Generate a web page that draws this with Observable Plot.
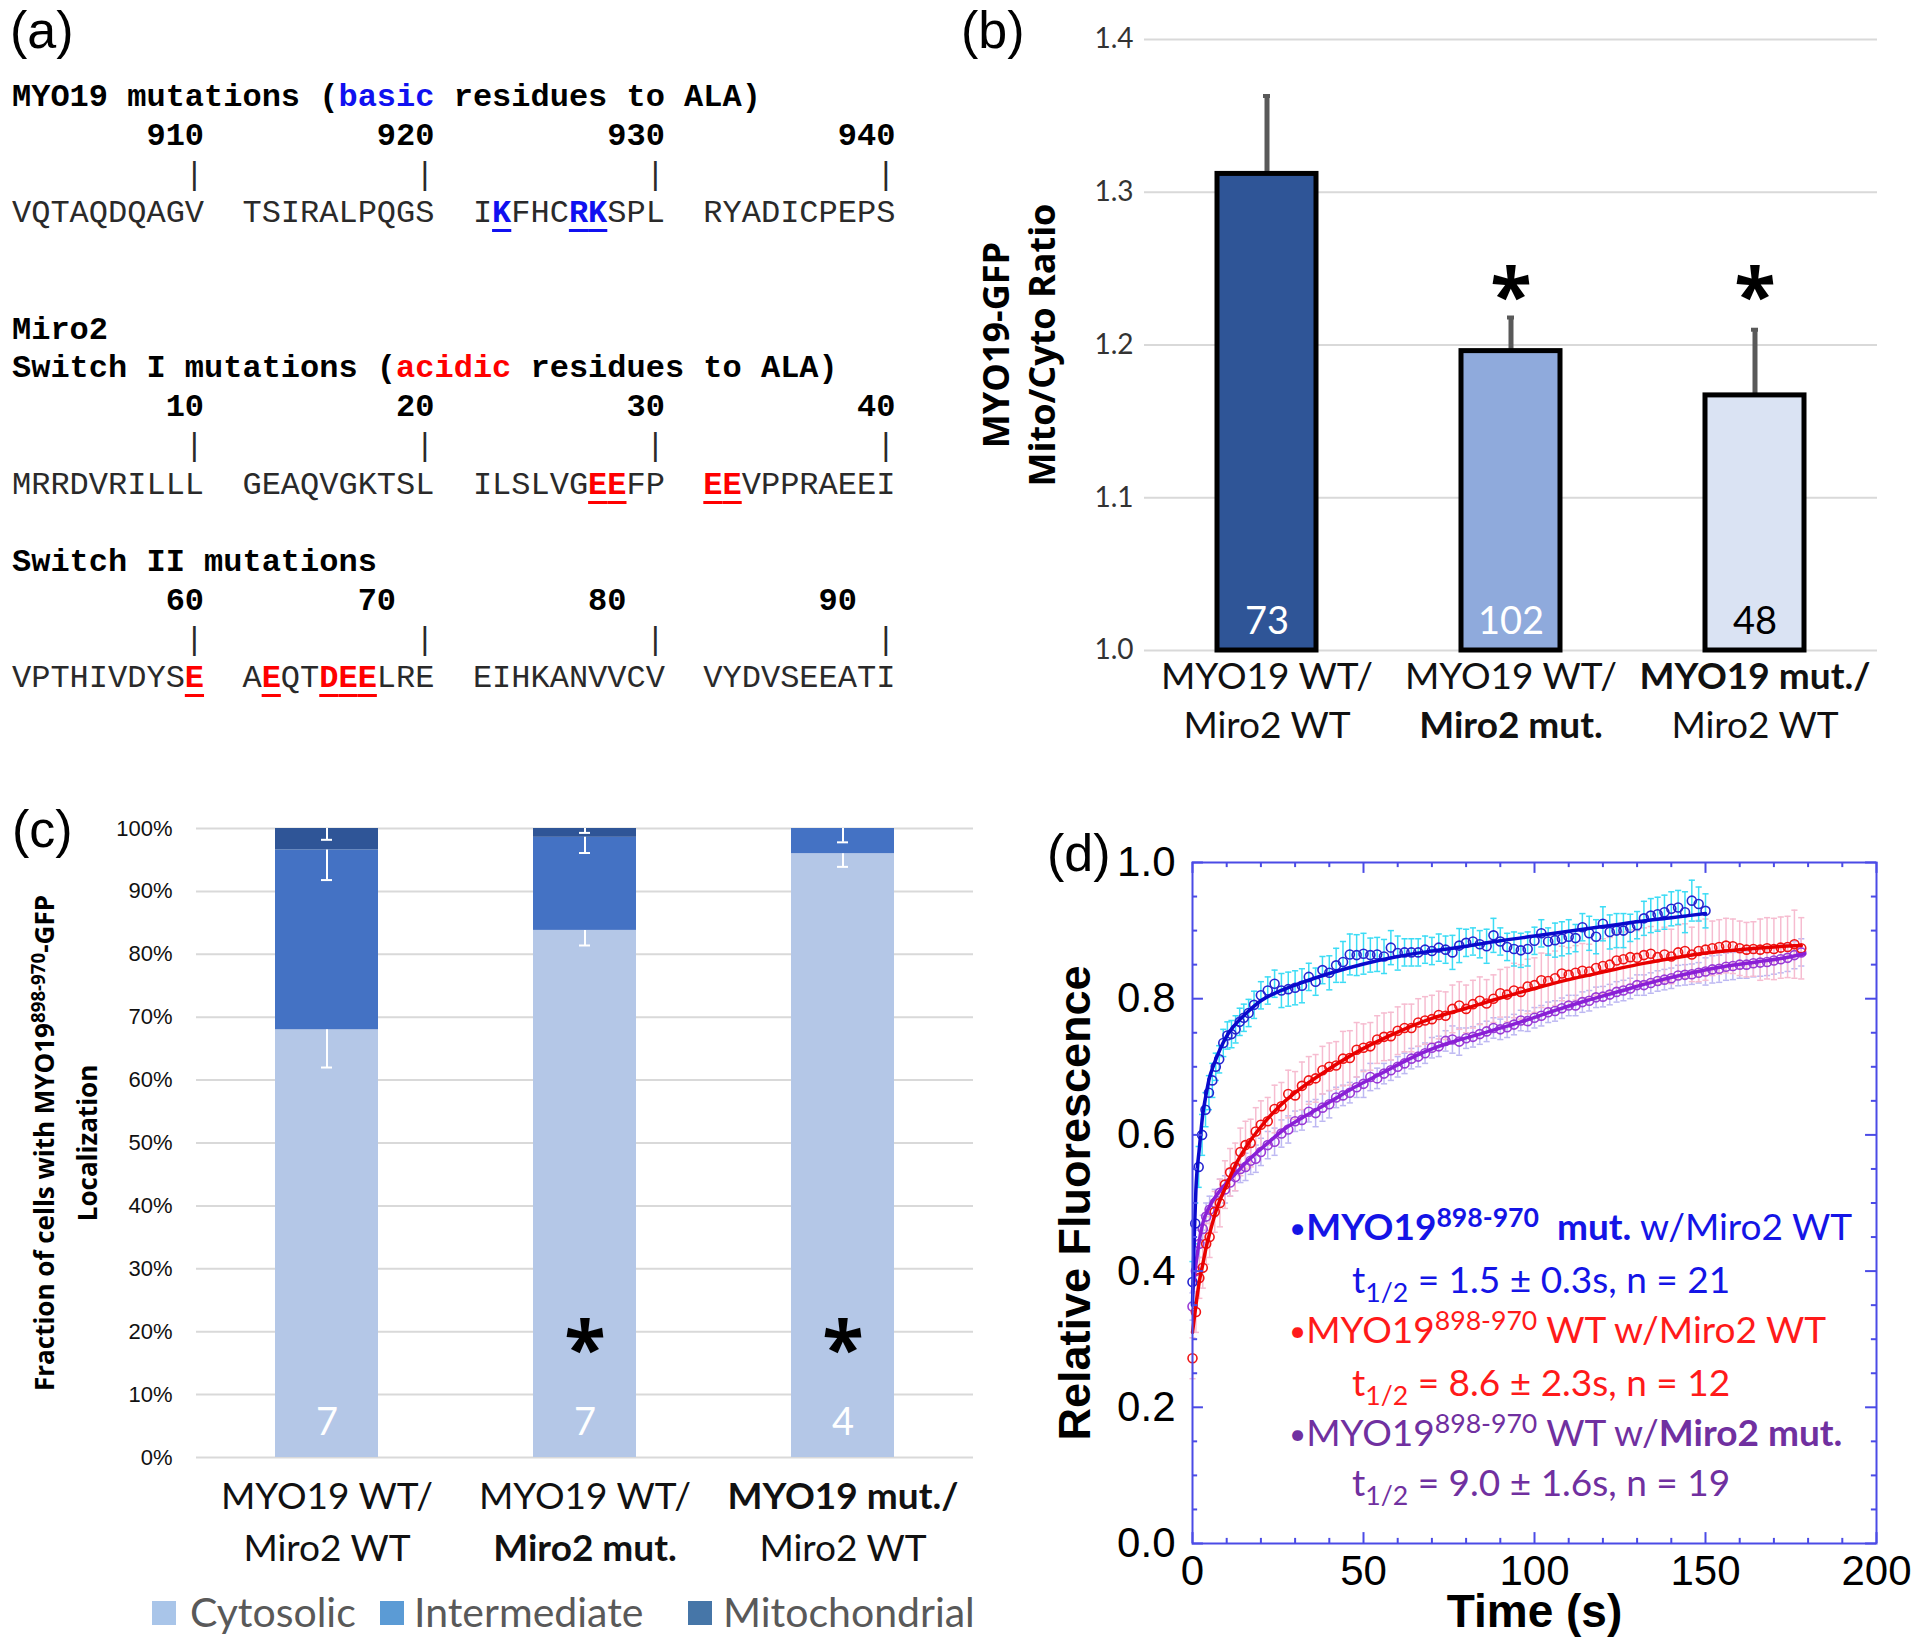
<!DOCTYPE html>
<html><head><meta charset="utf-8">
<script src="https://cdn.jsdelivr.net/npm/d3@7"></script>
<script src="https://cdn.jsdelivr.net/npm/@observablehq/plot@0.6"></script>
<style>
html,body{margin:0;padding:0;background:#fff;}
#fig{position:relative;width:1920px;height:1647px;overflow:hidden;background:#fff;}
.holder{position:absolute;}
.holder svg{display:block;}
.plabel{position:absolute;font-family:'Liberation Sans',Arial,sans-serif;font-size:52px;line-height:52px;color:#000;}
#panelA{position:absolute;left:12px;top:79px;font-family:'Liberation Mono','Courier New',monospace;font-size:32px;line-height:38.75px;white-space:pre;color:#2a2a2a;}
#panelA .hd{font-weight:bold;color:#000;}
#panelA .num{font-weight:bold;color:#000;}
#panelA .mut{font-weight:bold;text-decoration:underline;text-decoration-thickness:3px;text-underline-offset:7px;}
.dl{position:absolute;font-family:Lato,'Open Sans',sans-serif;font-size:37px;line-height:46px;white-space:pre;}
.bul{font-weight:normal;font-size:0.8em;position:relative;top:-0.08em;}
.sup{font-size:0.72em;position:relative;top:-0.5em;}
.sub{font-size:0.72em;position:relative;top:0.32em;}
.legc{position:absolute;font-family:Lato,sans-serif;font-size:41px;line-height:46px;color:#595959;white-space:nowrap;}
.sw{position:absolute;width:24px;height:24px;}
.ytitle{position:absolute;transform:rotate(-90deg);transform-origin:50% 50%;text-align:center;font-family:'Open Sans',sans-serif;font-weight:bold;color:#000;white-space:nowrap;}
</style></head>
<body><div id="fig"></div>
<script>
// ---------------- DATA ----------------
// Panel (a): sequences
const myo19Groups = ["VQTAQDQAGV", "TSIRALPQGS", "IKFHCRKSPL", "RYADICPEPS"];
const myo19First = 901;
const myo19Mutated = [922, 926, 927];
const myo19Labels = [910, 920, 930, 940];
const myo19LabelCols = [10, 22, 34, 46];
const miroS1Groups = ["MRRDVRILLL", "GEAQVGKTSL", "ILSLVGEEFP", "EEVPPRAEEI"];
const miroS1First = 1;
const miroS1Mutated = [27, 28, 31, 32];
const miroS1Labels = [10, 20, 30, 40];
const miroS1LabelCols = [10, 22, 34, 46];
const miroS2Groups = ["VPTHIVDYSE", "AEQTDEELRE", "EIHKANVVCV", "VYDVSEEATI"];
const miroS2First = 51;
const miroS2Mutated = [60, 62, 65, 66, 67];
const miroS2Labels = [60, 70, 80, 90];
const miroS2LabelCols = [10, 20, 32, 44];
const tickCols = [10, 22, 34, 46];

// Panels (b),(c): groups
const groupLine1 = ["MYO19 WT/", "MYO19 WT/", "MYO19 mut./"];
const groupLine2 = ["Miro2 WT", "Miro2 mut.", "Miro2 WT"];

// Panel (b)
const ratioMean = [1.312, 1.196, 1.167];
const ratioSem = [0.051, 0.022, 0.043];
const ratioN = [73, 102, 48];
const ratioSig = [false, true, true];
const ratioTicks = [1.0, 1.1, 1.2, 1.3, 1.4];

// Panel (c)
const locLayers = ["Cytosolic", "Intermediate", "Mitochondrial"];
const locCyto = [68.0, 83.8, 96.0];
const locInter = [28.6, 14.8, 4.0];
const locMito = [3.4, 1.4, 0.0];
const locCytoErr = [6.0, 2.4, 2.1];
const locInterErr = [4.8, 2.5, 2.2];
const locMitoErr = [1.8, 0.7, 0.0];
const locN = [7, 7, 4];
const locSig = [false, true, true];
const locTicks = [0, 10, 20, 30, 40, 50, 60, 70, 80, 90, 100];

// Panel (d): FRAP recovery
const blueT = [0,0.8,1.8,2.8,3.8,4.8,5.8,6.8,7.8,9,10.2,11.4,12.6,13.8,15,16.4,18,
  20,22,24,26,28,30,32,34,36,38,40,42,44,46,48,50,52,54,56,58,60,62,64,66,68,70,72,74,76,78,
  80,82,84,86,88,90,92,94,96,98,100,102,104,106,108,110,112,114,116,118,120,122,124,126,128,130,
  132,134,136,138,140,142,144,146,148,150];
const blueV = [.384,.47,.553,.60,.637,.662,.68,.70,.711,.735,.746,.748,.755,.766,.772,.779,.791,
  .805,.812,.822,.812,.814,.816,.819,.832,.825,.842,
  .838,.849,.854,.865,.864,.866,.864,.865,.862,.875,
  .867,.868,.868,.868,.872,.87,.875,.872,.868,.878,
  .882,.884,.88,.877,.893,.884,.876,.873,.871,.873,
  .885,.896,.884,.886,.888,.891,.889,.905,.896,.891,
  .91,.898,.90,.90,.904,.908,.918,.922,.924,.927,
  .932,.934,.927,.944,.939,.929];
const blueE = [.03,.03,.03,.03,.025,.025,.025,.02,.02,.02,.02,.02,.02,.02,.02,.02,.02,
  .02,.02,.02,.025,.025,.025,.025,.02,.02,.02,
  .025,.025,.03,.03,.03,.03,.025,.025,.025,.025,
  .025,.02,.02,.02,.02,.02,.02,.02,.025,.025,
  .02,.02,.02,.025,.025,.02,.02,.025,.025,.025,
  .02,.02,.02,.025,.025,.025,.02,.02,.025,.025,
  .025,.025,.025,.025,.02,.02,.025,.025,.025,.025,
  .025,.025,.03,.03,.025,.025];
const rpT = [0,1,2,3,4,5,6.5,8,9.5,11,12.5,14,15.5,17,18.5,
  20,22,24,26,28,30,32,34,36,38,40,42,44,46,48,50,52,54,56,58,60,62,64,66,68,70,72,74,76,78,
  80,82,84,86,88,90,92,94,96,98,100,102,104,106,108,110,112,114,116,118,120,122,124,126,128,130,
  132,134,136,138,140,142,144,146,148,150,152,154,156,158,160,162,164,166,168,170,172,174,176,178];
const redV = [.272,.34,.39,.405,.44,.45,.487,.50,.527,.545,.553,.575,.585,.588,.605,
  .615,.62,.638,.642,.66,.658,.672,.68,.683,.695,
  .70,.702,.712,.713,.725,.728,.73,.74,.744,.745,
  .753,.757,.757,.765,.768,.77,.776,.775,.785,.79,
  .785,.792,.797,.793,.80,.808,.806,.812,.81,.818,
  .82,.827,.826,.83,.837,.835,.838,.841,.84,.845,
  .848,.85,.856,.858,.861,.86,.864,.866,.861,.865,
  .862,.868,.87,.865,.87,.872,.874,.876,.878,.877,
  .874,.872,.873,.872,.874,.873,.875,.876,.88,.874];
const redE = [.03,.03,.03,.03,.03,.03,.03,.035,.035,.035,.035,.035,.035,.035,.035,
  .035,.035,.035,.035,.035,.035,.035,.035,.035,.035,
  .035,.035,.04,.04,.04,.035,.035,.035,.035,.035,
  .035,.035,.035,.035,.035,.035,.035,.035,.035,.035,
  .035,.035,.035,.035,.035,.035,.04,.04,.04,.04,
  .04,.04,.04,.04,.04,.04,.04,.04,.04,.04,
  .04,.04,.04,.04,.04,.04,.04,.04,.04,.04,
  .04,.04,.04,.04,.045,.045,.04,.04,.04,.04,
  .04,.04,.04,.045,.045,.045,.045,.045,.05,.045];
const purpleV = [.348,.40,.44,.462,.48,.49,.50,.515,.52,.53,.538,.55,.553,.562,.565,
  .575,.585,.59,.602,.608,.62,.622,.634,.632,.64,
  .645,.655,.658,.662,.67,.675,.685,.683,.69,.695,
  .70,.705,.712,.715,.72,.728,.73,.738,.74,.737,
  .742,.744,.748,.752,.757,.755,.758,.762,.768,.767,
  .772,.775,.78,.782,.786,.79,.79,.795,.797,.802,
  .803,.806,.81,.812,.815,.82,.82,.823,.826,.828,
  .83,.834,.835,.836,.838,.84,.843,.844,.847,.848,
  .85,.85,.852,.853,.854,.856,.858,.86,.864,.868];
const purpleE = [.02,.02,.02,.02,.02,.02,.02,.02,.02,.02,.02,.02,.02,.02,.02,
  .02,.02,.02,.02,.02,.015,.015,.015,.02,.02,
  .02,.015,.015,.015,.015,.02,.02,.015,.015,.015,
  .015,.015,.015,.015,.015,.015,.015,.015,.02,.02,
  .015,.015,.015,.015,.015,.015,.015,.015,.015,.015,
  .015,.015,.015,.015,.015,.015,.015,.015,.015,.015,
  .015,.015,.015,.015,.015,.015,.015,.015,.015,.015,
  .015,.015,.015,.015,.015,.02,.02,.02,.02,.02,
  .02,.02,.02,.02,.02,.02,.02,.02,.02,.02];
// fitted recovery curves
const blueFitT = [0,0.5,1,2,3,4,5,6,8,10,13,16,20,25,30,40,50,60,70,80,90,100,110,120,130,140,150];
const blueFitV = [.35,.45,.52,.58,.63,.66,.685,.70,.725,.745,.765,.78,.797,.81,.82,.837,.851,.862,.870,.877,.885,.892,.899,.906,.913,.919,.925];
const redFitT = [0,1,2,3,4,5,7,10,13,16,20,25,30,40,50,60,70,80,90,100,110,120,130,140,150,160,170,178];
const redFitV = [.31,.35,.385,.41,.435,.455,.49,.527,.56,.585,.612,.64,.662,.697,.727,.751,.771,.786,.801,.815,.828,.839,.85,.859,.867,.872,.876,.878];
const purpleFitT = [0,1,2,3,5,8,12,17,22,27,32,37,42,47,52,57,62,67,72,77,86,96,105,115,125,135,145,155,165,172,179];
const purpleFitV = [.37,.41,.445,.47,.495,.518,.54,.566,.588,.609,.625,.639,.654,.669,.682,.695,.708,.72,.73,.738,.751,.766,.781,.797,.811,.825,.837,.847,.854,.859,.866];
const frapConstruct = ["MYO19", "MYO19", "MYO19"];
const frapMyoState = ["mut.", "WT", "WT"];
const frapMiroState = ["WT", "WT", "mut."];
const frapHalf = ["1.5", "8.6", "9.0"];
const frapHalfErr = ["0.3", "2.3", "1.6"];
const frapN = [21, 12, 19];
const dXMajor = [0, 50, 100, 150, 200];
const dXMinor = [10,20,30,40,60,70,80,90,110,120,130,140,160,170,180,190];
const dYMajor = [0, 0.2, 0.4, 0.6, 0.8, 1.0];
const dYMinor = [0.05,0.1,0.15,0.25,0.3,0.35,0.45,0.5,0.55,0.65,0.7,0.75,0.85,0.9,0.95];

// ---------------- STYLE CONSTANTS ----------------
const LATO = "Lato, 'Open Sans', sans-serif";
const OPEN = "'Open Sans', Lato, sans-serif";
const ARIAL = "'Liberation Sans', Arial, sans-serif";
const NARROW = "'Liberation Sans Narrow', 'Arial Narrow', 'Liberation Sans', sans-serif";
const BLUE_TXT = "#1414E6", RED_TXT = "#FF1A1A", PURPLE_TXT = "#7030A0";
const fig = document.getElementById("fig");

function place(node, left, top) {
  const d = document.createElement("div");
  d.className = "holder";
  d.style.left = left + "px"; d.style.top = top + "px";
  d.appendChild(node); fig.appendChild(d); return d;
}
function html(s) { fig.insertAdjacentHTML("beforeend", s); }

// ---------------- PANEL (a) ----------------
function seqLine(groups, first, mutated, color) {
  return groups.map((g, gi) => [...g].map((ch, ci) => {
    const pos = first + gi * 10 + ci;
    return mutated.includes(pos) ? `<span class="mut" style="color:${color}">${ch}</span>` : ch;
  }).join("")).join("  ");
}
function numLine(labels, cols) {
  let s = "";
  labels.forEach((lab, i) => { const t = String(lab); s = s.padEnd(cols[i] - t.length) + t; });
  return `<span class="num">${s}</span>`;
}
function tickLine(cols) {
  let s = "";
  cols.forEach(c => { s = s.padEnd(c - 1) + "|"; });
  return s;
}
const aBlue = "#1010F0", aRed = "#FF0000";
const aLines = [
  `<span class="hd">MYO19 mutations (<span style="color:${aBlue}">basic</span> residues to ALA)</span>`,
  numLine(myo19Labels, myo19LabelCols),
  tickLine(tickCols),
  seqLine(myo19Groups, myo19First, myo19Mutated, aBlue),
  "", "",
  `<span class="hd">Miro2</span>`,
  `<span class="hd">Switch I mutations (<span style="color:${aRed}">acidic</span> residues to ALA)</span>`,
  numLine(miroS1Labels, miroS1LabelCols),
  tickLine(tickCols),
  seqLine(miroS1Groups, miroS1First, miroS1Mutated, aRed),
  "",
  `<span class="hd">Switch II mutations</span>`,
  numLine(miroS2Labels, miroS2LabelCols),
  tickLine(tickCols),
  seqLine(miroS2Groups, miroS2First, miroS2Mutated, aRed)
];
html(`<div id="panelA">${aLines.join("\n")}</div>`);

// ---------------- shared helpers ----------------
const groups = groupLine1.map((a, i) => a + " " + groupLine2[i]);
function xLabelMarks(rows, dy1, dy2) {
  const common = {x: "group", frameAnchor: "bottom", lineAnchor: "middle", fontFamily: LATO, fontSize: 37, fill: "#111"};
  const isBold = s => s.includes("mut.");
  return [
    Plot.text(rows.filter(r => !isBold(r.l1)), {...common, text: "l1", dy: dy1}),
    Plot.text(rows.filter(r => isBold(r.l1)), {...common, text: "l1", dy: dy1, fontWeight: "bold"}),
    Plot.text(rows.filter(r => !isBold(r.l2)), {...common, text: "l2", dy: dy2}),
    Plot.text(rows.filter(r => isBold(r.l2)), {...common, text: "l2", dy: dy2, fontWeight: "bold"})
  ];
}

// ---------------- PANEL (b) ----------------
const bColors = ["#2F5597", "#8FAADC", "#DAE3F3"];
const bRows = groups.map((g, i) => ({group: g, l1: groupLine1[i], l2: groupLine2[i],
  mean: ratioMean[i], sem: ratioSem[i], n: ratioN[i], sig: ratioSig[i]}));
const isLight = d => d3.hsl(bColors[groups.indexOf(d.group)]).l > 0.75;
const bPlot = Plot.plot({
  width: 960, height: 760,
  marginLeft: 184, marginRight: 43, marginTop: 39, marginBottom: 110,
  x: {domain: groups, paddingInner: 0.595, paddingOuter: 0.2975, axis: null},
  y: {domain: [1.0, 1.4]},
  color: {domain: groups, range: bColors},
  style: {fontFamily: LATO, fontSize: "28px", color: "#333", background: "transparent"},
  marks: [
    Plot.ruleY(ratioTicks, {y: d => d, stroke: "#D9D9D9", strokeWidth: 2}),
    Plot.axisY({ticks: ratioTicks, tickSize: 0, tickPadding: 11, tickFormat: d3.format(".1f"), label: null}),
    Plot.ruleX(bRows, {x: "group", y1: "mean", y2: d => d.mean + d.sem, stroke: "#595959", strokeWidth: 5}),
    Plot.tickY(bRows, {x: "group", y: d => d.mean + d.sem, stroke: "#595959", strokeWidth: 4, insetLeft: 46, insetRight: 46}),
    Plot.barY(bRows, {x: "group", y1: 1.0, y2: "mean", fill: "group", stroke: "#000", strokeWidth: 5}),
    Plot.text(bRows.filter(d => !isLight(d)), {x: "group", y: 1.0, dy: -29, text: d => String(d.n), fill: "#fff", fontSize: 38, fontFamily: LATO}),
    Plot.text(bRows.filter(d => isLight(d)), {x: "group", y: 1.0, dy: -29, text: d => String(d.n), fill: "#000", fontSize: 38, fontFamily: LATO}),
    Plot.text(bRows.filter(d => d.sig), {x: "group", frameAnchor: "top", lineAnchor: "middle", dy: 258, text: () => "*", fontSize: 76, fontWeight: "bold", fontFamily: OPEN, fill: "#000"}),
    ...xLabelMarks(bRows, 27, 76),
    Plot.text(["MYO19-GFP\nMito/Cyto Ratio"], {text: d => d, frameAnchor: "left", textAnchor: "middle", lineAnchor: "middle", dx: -127, rotate: -90,
      fontFamily: OPEN, fontWeight: "bold", fontSize: 36, lineHeight: 1.28, fill: "#000"})
  ]
});
place(bPlot, 960, 0);

// ---------------- PANEL (c) ----------------
const cColors = ["#B4C7E7", "#4472C4", "#2F5597"];
const layerVals = [locCyto, locInter, locMito];
const layerErrs = [locCytoErr, locInterErr, locMitoErr];
const cRows = [];
groups.forEach((g, i) => {
  let cum = 0;
  locLayers.forEach((L, j) => {
    cum += layerVals[j][i];
    cRows.push({group: g, layer: L, value: layerVals[j][i], top: cum, err: layerErrs[j][i]});
  });
});
const cErr = cRows.filter(d => d.err > 0);
const cInfo = groups.map((g, i) => ({group: g, l1: groupLine1[i], l2: groupLine2[i], n: locN[i], sig: locSig[i]}));
const cPlot = Plot.plot({
  width: 1000, height: 780,
  marginLeft: 196, marginRight: 27, marginTop: 28, marginBottom: 123,
  x: {domain: groups, paddingInner: 0.6, paddingOuter: 0.304, axis: null},
  y: {domain: [0, 100]},
  color: {domain: locLayers, range: cColors},
  style: {fontFamily: ARIAL, fontSize: "22px", color: "#111", background: "transparent"},
  marks: [
    Plot.ruleY(locTicks, {y: d => d, stroke: "#D9D9D9", strokeWidth: 2}),
    Plot.axisY({ticks: locTicks, tickSize: 0, tickPadding: 24, tickFormat: d => d + "%", label: null}),
    Plot.barY(cRows, {x: "group", y: "value", fill: "layer"}),
    Plot.ruleX(cErr, {x: "group", y1: d => d.top - d.err, y2: "top", stroke: "#fff", strokeWidth: 2}),
    Plot.tickY(cErr, {x: "group", y: d => d.top - d.err, stroke: "#fff", strokeWidth: 2, insetLeft: 46, insetRight: 46}),
    Plot.text(cInfo, {x: "group", y: 0, dy: -35, text: d => String(d.n), fill: "#fff", fontSize: 38, fontFamily: LATO}),
    Plot.text(cInfo.filter(d => d.sig), {x: "group", frameAnchor: "top", lineAnchor: "middle", dy: 522, text: () => "*", fontSize: 76, fontWeight: "bold", fontFamily: OPEN, fill: "#000"}),
    ...xLabelMarks(cInfo, 40, 92)
  ]
});
place(cPlot, 0, 800);

html(`<div class="ytitle" style="left:${66-320}px;top:${1143-42}px;width:640px;height:84px;font-size:26px;line-height:40px;">Fraction of cells with MYO19<span class="sup">898-970</span>-GFP<br>Localization</div>`);

// legend (c)
const legSw = ["#A9C5E9", "#5B9BD5", "#4676A8"];
const legSwX = [152, 380, 688], legTxtX = [190, 414, 723];
locLayers.forEach((L, i) => {
  html(`<div class="sw" style="left:${legSwX[i]}px;top:1601px;background:${legSw[i]}"></div>`);
  html(`<div class="legc" style="left:${legTxtX[i]}px;top:1589px">${L}</div>`);
});

// ---------------- PANEL (d) ----------------
const mk = (T, V, E) => T.map((t, i) => ({t, v: V[i], e: E[i]}));
const blue = mk(blueT, blueV, blueE);
const red = mk(rpT, redV, redE);
const purple = mk(rpT, purpleV, purpleE);
const fit = (T, V) => T.map((t, i) => ({t, v: V[i]}));
const FRAME = "#4B4BE6";
function errMarks(data, color) {
  const w = 0.9;
  return [
    Plot.ruleX(data, {x: "t", y1: d => d.v - d.e, y2: d => d.v + d.e, stroke: color, strokeWidth: 1.5}),
    Plot.link(data, {x1: d => d.t - w, x2: d => d.t + w, y1: d => d.v + d.e, y2: d => d.v + d.e, stroke: color, strokeWidth: 1.5}),
    Plot.link(data, {x1: d => d.t - w, x2: d => d.t + w, y1: d => d.v - d.e, y2: d => d.v - d.e, stroke: color, strokeWidth: 1.5})
  ];
}
const dot = (data, color) => Plot.dot(data, {x: "t", y: "v", r: 4.5, stroke: color, fill: "none", strokeWidth: 1.6});
const fitLine = (data, color) => Plot.line(data, {x: "t", y: "v", stroke: color, strokeWidth: 3.5, curve: "monotone-x"});
const dPlot = Plot.plot({
  width: 880, height: 847,
  marginLeft: 152, marginRight: 44, marginTop: 62, marginBottom: 104,
  x: {domain: [0, 200]},
  y: {domain: [0, 1]},
  style: {fontFamily: NARROW, fontSize: "42px", color: "#000", background: "transparent"},
  marks: [
    ...errMarks(purple, "#BDB8F2"),
    ...errMarks(red, "#F6BCD0"),
    ...errMarks(blue, "#3CDCF5"),
    dot(purple, "#9A3BD6"),
    dot(red, "#F01515"),
    dot(blue, "#2525D0"),
    fitLine(fit(purpleFitT, purpleFitV), "#8A1FD6"),
    fitLine(fit(redFitT, redFitV), "#E80000"),
    fitLine(fit(blueFitT, blueFitV), "#0A0ACC"),
    Plot.frame({stroke: FRAME, strokeWidth: 2}),
    Plot.ruleX(dXMajor, {x: d => d, y1: 0, y2: 0.016, stroke: FRAME, strokeWidth: 2}),
    Plot.ruleX(dXMajor, {x: d => d, y1: 1, y2: 0.984, stroke: FRAME, strokeWidth: 2}),
    Plot.ruleX(dXMinor, {x: d => d, y1: 0, y2: 0.0075, stroke: FRAME, strokeWidth: 2}),
    Plot.ruleX(dXMinor, {x: d => d, y1: 1, y2: 0.9925, stroke: FRAME, strokeWidth: 2}),
    Plot.ruleY(dYMajor, {y: d => d, x1: 0, x2: 3.2, stroke: FRAME, strokeWidth: 2}),
    Plot.ruleY(dYMajor, {y: d => d, x1: 200, x2: 196.8, stroke: FRAME, strokeWidth: 2}),
    Plot.ruleY(dYMinor, {y: d => d, x1: 0, x2: 1.5, stroke: FRAME, strokeWidth: 2}),
    Plot.ruleY(dYMinor, {y: d => d, x1: 200, x2: 198.5, stroke: FRAME, strokeWidth: 2}),
    Plot.axisX({ticks: dXMajor, tickSize: 0, tickPadding: 12, tickFormat: d => String(d), label: null}),
    Plot.axisY({ticks: dYMajor, tickSize: 0, tickPadding: 17, tickFormat: d3.format(".1f"), label: null}),
    Plot.text(["Time (s)"], {text: d => d, frameAnchor: "bottom", lineAnchor: "middle", dy: 69, fontFamily: ARIAL, fontWeight: "bold", fontSize: 46, fill: "#000"}),
    Plot.text(["Relative Fluorescence"], {text: d => d, frameAnchor: "left", textAnchor: "middle", lineAnchor: "middle", dx: -117, rotate: -90, fontFamily: ARIAL, fontWeight: "bold", fontSize: 45, fill: "#000"})
  ]
});
place(dPlot, 1040, 800);

// legend text inside (d)
const dColors = [BLUE_TXT, RED_TXT, PURPLE_TXT];
const dCenters = [[1227, 1280], [1330, 1383], [1433, 1483]];
frapConstruct.forEach((c, i) => {
  const myoBold = frapMyoState[i].includes("mut.");
  const miroBold = frapMiroState[i].includes("mut.");
  const head = `<span class="bul">•</span>${myoBold ? "<b>" : ""}${c}<span class="sup">898-970</span>${myoBold ? "</b>" : ""}`;
  const myo = myoBold ? `<b>  ${frapMyoState[i]}</b>` : ` ${frapMyoState[i]}`;
  const miro = miroBold ? `w/<b>Miro2 ${frapMiroState[i]}</b>` : `w/Miro2 ${frapMiroState[i]}`;
  html(`<div class="dl" style="left:1289px;top:${dCenters[i][0] - 24}px;color:${dColors[i]}">${head}${myo} ${miro}</div>`);
  html(`<div class="dl" style="left:1352px;top:${dCenters[i][1] - 24}px;color:${dColors[i]}">t<span class="sub">1/2</span> = ${frapHalf[i]} ± ${frapHalfErr[i]}s, n = ${frapN[i]}</div>`);
});

// panel labels
[["(a)", 10, 4], ["(b)", 961, 4], ["(c)", 12, 803], ["(d)", 1047, 827]].forEach(([t, x, y]) => {
  html(`<div class="plabel" style="left:${x}px;top:${y}px">${t}</div>`);
});
</script>
</body></html>
